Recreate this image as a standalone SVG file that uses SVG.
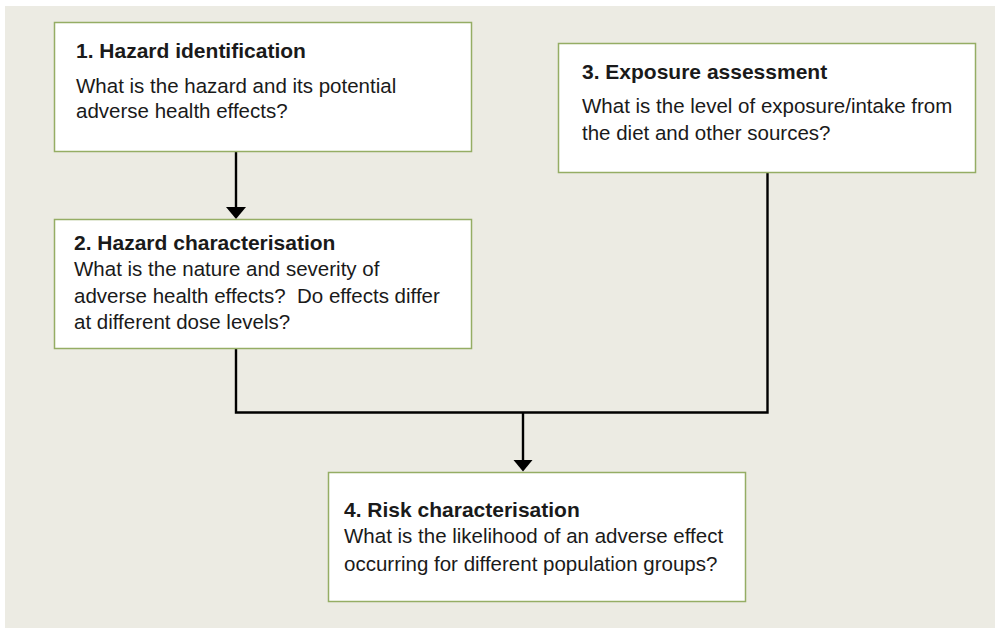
<svg xmlns="http://www.w3.org/2000/svg" width="998" height="628" viewBox="0 0 998 628">
<style>
.box{fill:#ffffff;stroke:#95ad64;stroke-width:1.5}
.t{font-family:"Liberation Sans",Arial,sans-serif;font-size:21px;font-weight:bold;fill:#1a1a1a}
.b{font-family:"Liberation Sans",Arial,sans-serif;font-size:20.5px;fill:#1a1a1a;white-space:pre}
.ln{fill:none;stroke:#000;stroke-width:2.4}
.ah{fill:#000}
</style>
<rect x="5" y="6" width="990" height="622" fill="#ecebe3"/>
<g id="connectors">
<path class="ln" d="M236,152 V207"/>
<path class="ah" d="M226,207 H246 L236,219 Z"/>
<path class="ln" d="M236,349 V412.5 H767.5 V172"/>
<path class="ln" d="M523,412.5 V460"/>
<path class="ah" d="M513.5,460 H532.5 L523,471.5 Z"/>
</g>
<g id="node1">
<rect class="box" x="54.5" y="22.5" width="417" height="129"/>
<text class="t" x="76" y="58">1. Hazard identification</text>
<text class="b" x="76" y="93">What is the hazard and its potential</text>
<text class="b" x="76" y="118">adverse health effects?</text>
</g>
<g id="node2">
<rect class="box" x="54.5" y="219.5" width="417" height="129"/>
<text class="t" x="74" y="250">2. Hazard characterisation</text>
<text class="b" x="74" y="276">What is the nature and severity of</text>
<text class="b" x="74" y="302.5">adverse health effects?  Do effects differ</text>
<text class="b" x="74" y="329">at different dose levels?</text>
</g>
<g id="node3">
<rect class="box" x="558.5" y="43.5" width="417" height="129"/>
<text class="t" x="582" y="79">3. Exposure assessment</text>
<text class="b" x="582" y="112.5">What is the level of exposure/intake from</text>
<text class="b" x="582" y="140">the diet and other sources?</text>
</g>
<g id="node4">
<rect class="box" x="328.5" y="472.5" width="417" height="129"/>
<text class="t" x="344" y="516.5">4. Risk characterisation</text>
<text class="b" x="344" y="543">What is the likelihood of an adverse effect</text>
<text class="b" x="344" y="570.5">occurring for different population groups?</text>
</g>
</svg>
